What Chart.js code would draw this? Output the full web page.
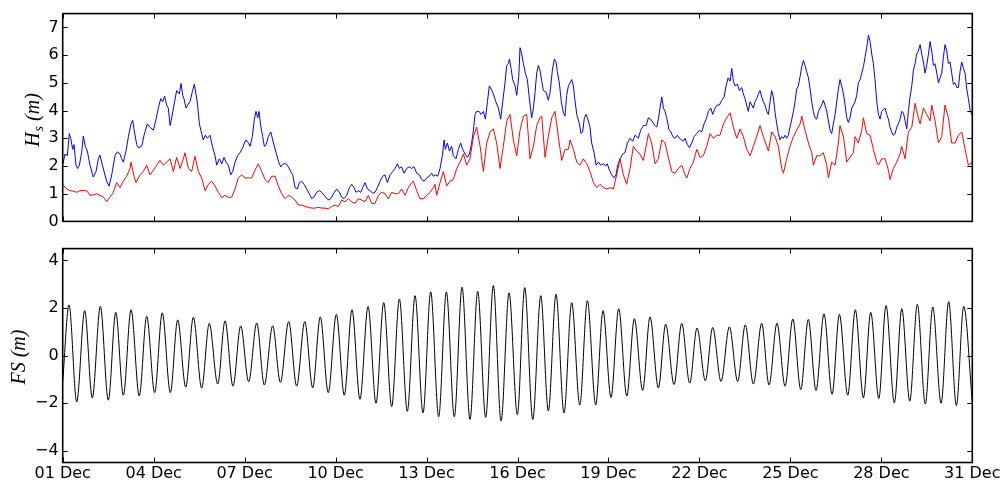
<!DOCTYPE html>
<html>
<head>
<meta charset="utf-8">
<script src="https://cdn.jsdelivr.net/npm/chart.js@4.4.0/dist/chart.umd.min.js"></script>
<style>
html, body { margin: 0; padding: 0; background: #fff; }
#wrap { position: relative; width: 1003px; height: 485px; }
canvas { position: absolute; left: 0; }
#hsChart { top: 0; }
#fsChart { top: 235px; }
</style>
</head>
<body>
<div id="wrap">
  <canvas id="hsChart" width="1003" height="235"></canvas>
  <canvas id="fsChart" width="1003" height="250"></canvas>
</div>
<script>
// ── DATA (x in hours from 01 Dec 00:00) ──
const dayLabels = ['01 Dec', '04 Dec', '07 Dec', '10 Dec', '13 Dec', '16 Dec',
                   '19 Dec', '22 Dec', '25 Dec', '28 Dec', '31 Dec'];

// Hs, blue line (m)
const hsBlueT = [
  0, 1.8, 3.7, 5.2, 6.6, 7.9, 9.0, 10.5, 11.8, 13.2,
  15.0, 16.3, 17.9, 19.5, 21.6, 24.2, 26.4, 28.2, 29.5, 31.4,
  34.8, 36.7, 38.8, 41.4, 43.2, 45.4, 46.7, 48.0, 50.1, 52.0,
  54.1, 55.4, 56.4, 58.6, 59.9, 62.5, 64.4, 67.0, 69.1, 71.8,
  73.9, 75.7, 77.6, 79.1, 80.7, 82.3, 83.6, 85.0, 86.3, 88.1,
  90.2, 92.3, 93.7, 95.0, 96.0, 97.6, 98.9, 100.8, 102.6, 104.2,
  105.5, 106.8, 108.2, 110.0, 111.3, 112.9, 114.5, 116.6, 118.5, 120.6,
  121.9, 124.0, 125.9, 127.7, 129.3, 131.1, 133.0, 134.6, 136.4, 138.5,
  140.4, 142.5, 143.8, 145.1, 147.0, 148.3, 150.1, 151.7, 153.0, 154.4,
  155.4, 156.7, 158.3, 159.6, 161.0, 162.8, 164.7, 166.8, 168.9, 171.0,
  172.6, 174.7, 176.8, 178.6, 180.5, 182.1, 183.9, 185.8, 187.3,
  189.2, 191.0, 193.1, 195.2, 197.1, 198.9, 201.0, 203.2, 205.0, 207.1,
  209.0, 211.1, 212.9, 215.0, 216.9, 219.0, 220.8, 222.7, 224.8, 226.9,
  228.8, 230.6, 232.2, 234.0, 235.9, 237.5, 239.3, 241.2, 243.3, 245.4,
  247.2, 249.1, 251.2, 253.3, 255.1, 257.0, 259.1, 261.2, 263.1, 264.9,
  266.5, 268.3, 270.2, 272.3, 274.4, 276.2, 278.1, 280.2, 282.3, 284.2,
  286.0, 288.1, 290.2, 292.1, 293.4, 295.3, 296.8, 298.7, 300.5, 301.9,
  302.9, 304.5, 306.1, 307.9, 309.2, 311.3, 313.2, 315.0, 316.6, 318.5,
  320.3, 321.9, 323.7, 325.1, 326.4, 327.7, 329.6, 331.1, 333.0, 334.6,
  336.2, 337.7, 339.1, 340.9, 342.8, 344.9, 346.7, 348.3, 350.1, 351.5,
  352.8, 353.6, 354.9, 356.2, 358.1, 359.4, 361.0, 362.0, 363.1, 364.7,
  366.2, 367.8, 369.4,
  371.2, 372.6, 373.9, 375.2, 376.5, 377.8, 379.2, 380.5, 382.6, 384.4,
  385.8, 387.6, 389.2, 390.5, 391.6, 393.1, 394.7, 396.3, 397.6, 398.9,
  400.3, 401.6, 402.9, 404.2, 405.5, 406.9, 409.0, 410.3, 411.6, 412.9,
  414.3, 416.1, 417.4, 418.7, 420.6, 422.2, 424.0, 425.9, 428.0, 429.8,
  431.1, 432.7, 434.6, 436.4, 438.0, 439.3, 441.2, 443.3, 445.1, 447.0,
  449.1, 451.2, 453.0, 454.4, 455.7, 457.5, 459.6, 461.8, 463.6, 465.4,
  467.0, 468.9, 470.2, 471.5, 472.8, 474.2, 475.5, 476.8, 478.1, 480.0,
  481.5, 482.9, 484.7, 486.6, 488.1, 490.0, 491.3, 492.6, 494.5, 496.1,
  497.9, 499.8, 501.9, 504.0, 505.8, 507.7, 509.3, 511.1, 513.0, 514.5,
  516.4, 518.2, 519.8, 521.7, 523.5, 525.1, 526.7, 528.3, 529.6, 530.9,
  532.2, 534.1, 535.6,
  537.5, 538.8, 540.1, 541.4, 542.7, 544.1, 545.4, 546.7, 548.0, 549.3,
  550.7, 552.0, 553.3, 554.6, 555.9, 557.3, 558.6, 559.9, 561.2, 562.5,
  563.9, 565.2, 566.5, 567.8, 569.1, 570.5, 571.8, 573.1, 574.4, 575.7,
  577.1, 578.4, 579.7, 581.0, 582.3, 583.7, 585.0, 586.3, 587.6, 588.9,
  590.3, 591.6, 592.9, 594.2, 595.5, 596.9, 598.2, 599.5, 600.8, 602.1,
  603.4, 604.8, 606.1, 607.4, 608.7, 610.0, 611.4, 612.7, 614.0, 615.3,
  616.6, 618.0, 619.3, 620.6, 621.9, 623.2, 624.6, 625.9, 627.2, 628.5,
  629.8, 631.2, 632.5, 633.8, 635.1, 636.4, 637.8, 639.1, 640.4, 641.7,
  643.0, 644.4, 645.7, 647.0, 648.3, 649.6, 650.9, 652.3, 653.6, 654.9,
  656.2, 657.5, 658.9, 660.2, 661.5, 662.8, 664.1, 665.5, 666.8, 668.1,
  669.4, 670.7, 672.1, 673.4, 674.7, 676.0, 677.3, 678.7, 680.0, 681.3,
  682.6, 683.9, 685.3, 686.6, 687.9, 689.2, 690.5, 691.9, 693.2, 694.5,
  695.8, 697.1, 698.4, 699.8, 701.1, 702.4, 703.7, 705.0, 706.4, 707.7,
  709.0, 710.3, 711.6, 713.0, 714.3, 715.6, 716.9, 718.2, 719.6, 720
];
const hsBlue = [
  2.03, 2.43, 2.37, 3.17, 2.94, 2.60, 2.77, 2.03, 1.91, 2.03,
  2.48, 3.08, 2.71, 2.54, 2.03, 1.60, 1.80, 2.26, 2.39, 2.03,
  1.45, 1.27, 1.68, 2.37, 2.51, 2.43, 2.26, 2.14, 2.54, 3.06,
  3.52, 3.65, 3.34, 2.77, 2.66, 2.71, 3.11, 3.52, 3.40, 3.29,
  3.69, 4.09, 4.43, 4.32, 4.52, 4.20, 4.09, 3.46, 3.74, 4.20,
  4.72, 4.60, 4.98, 4.55, 4.43, 4.09, 4.20, 4.32, 4.68, 4.95,
  4.60, 4.20, 3.52, 3.17, 2.94, 3.11, 3.00, 3.11, 2.71, 2.37,
  2.03, 2.26, 2.08, 2.31, 2.14, 2.03, 1.68, 1.80, 2.14, 2.37,
  2.48, 2.66, 2.83, 2.94, 2.83, 2.71, 3.06, 3.69, 3.97, 3.74,
  3.97, 3.46, 3.06, 2.71, 2.77, 3.06, 3.23, 2.83, 2.48, 2.14,
  1.97, 2.08, 2.08, 1.97, 1.80, 1.68, 1.22, 1.17, 1.40,
  1.45, 1.34, 1.17, 1.00, 0.82, 0.88, 1.05, 1.11, 1.05, 0.94,
  0.82, 0.77, 0.88, 1.05, 1.17, 1.05, 0.88, 0.82, 0.94, 1.22,
  1.34, 1.22, 1.05, 1.11, 1.05, 1.22, 1.40, 1.17, 1.11, 1.02,
  1.05, 1.22, 1.45, 1.63, 1.68, 1.40, 1.68, 1.80, 1.91, 2.08,
  1.91, 1.97, 1.74, 1.91, 1.97, 1.91, 1.97, 1.74, 1.68, 1.51,
  1.45, 1.57, 1.63, 1.74, 1.63, 1.68, 1.63, 1.91, 2.37, 2.94,
  2.60, 2.83, 2.54, 2.71, 2.37, 2.26, 2.60, 2.83, 2.60, 2.43,
  2.31, 2.43, 2.83, 3.29, 3.86, 3.97, 3.97, 3.86, 3.97, 3.69,
  4.32, 4.89, 4.78, 4.60, 4.32, 4.09, 3.69, 4.32, 5.00, 5.63,
  5.69, 5.86, 5.52, 5.12, 4.89, 4.55, 5.23, 6.27, 6.09, 5.69,
  5.35, 5.12, 4.43,
  3.74, 4.09, 4.66, 5.35, 5.63, 5.46, 5.06, 4.72, 4.66, 4.37,
  4.66, 5.46, 5.86, 5.75, 5.40, 5.00, 4.32, 3.92, 3.80, 4.55,
  4.89, 5.00, 5.12, 4.89, 4.37, 3.86, 3.52, 3.17, 3.23, 3.74,
  3.86, 3.63, 3.40, 2.83, 2.48, 2.03, 2.14, 2.03, 2.08, 2.00,
  2.08, 1.85, 1.68, 1.57, 1.68, 2.03, 2.26, 2.43, 2.48, 2.83,
  3.00, 2.89, 3.11, 3.06, 3.00, 3.29, 3.46, 3.46, 3.74, 3.69,
  3.57, 3.46, 3.40, 3.69, 4.09, 4.49, 4.09, 3.97, 3.74, 3.29,
  3.23, 3.06, 3.00, 3.11, 3.00, 2.94, 2.89, 3.00, 2.77, 2.66,
  2.83, 3.06, 3.17, 3.29, 3.23, 3.52, 3.69, 3.97, 4.09, 3.86,
  4.09, 4.20, 4.20, 4.37, 4.49, 4.89, 5.18, 5.06, 5.52, 5.06,
  4.89, 4.95, 4.72,
  4.83, 4.60, 4.43, 4.20, 3.97, 4.32, 4.20, 4.09, 4.32, 4.43,
  4.60, 4.72, 4.49, 4.32, 4.20, 3.97, 3.86, 4.32, 4.72, 4.49,
  3.92, 3.52, 3.17, 2.94, 3.06, 3.00, 3.11, 3.00, 3.11, 3.40,
  3.69, 3.97, 4.32, 4.78, 4.89, 5.23, 5.58, 5.81, 5.63, 5.40,
  5.18, 4.78, 4.32, 3.97, 3.74, 3.69, 3.97, 4.09, 4.20, 4.37,
  4.20, 3.97, 3.63, 3.29, 3.17, 3.52, 3.86, 4.32, 4.78, 5.12,
  4.89, 4.60, 4.20, 3.74, 3.57, 3.74, 4.09, 4.20, 4.32, 4.55,
  5.00, 5.12, 5.35, 5.58, 5.92, 6.27, 6.72, 6.49, 6.04, 5.69,
  5.12, 4.32, 3.86, 3.69, 3.97, 4.03, 4.09, 3.86, 3.69, 3.40,
  3.23, 3.11, 3.17, 3.40, 3.52, 3.69, 3.97, 3.92, 3.63, 3.34,
  3.97, 4.49, 4.89, 5.46, 5.69, 6.04, 6.15, 6.38, 6.04, 5.75,
  5.35, 5.63, 6.04, 6.49, 6.15, 5.63, 5.69, 5.35, 5.00, 5.18,
  5.35, 5.92, 6.38, 6.15, 5.69, 5.75, 5.35, 4.95, 5.00, 4.83,
  4.83, 5.40, 5.75, 5.52, 5.35, 4.78, 4.43, 4.03, 3.86, 3.90
];

// Hs, red line (m)
const hsRedT = [
  0, 3.1, 5.8, 8.4, 11.1, 13.7, 16.3, 19.0, 21.6, 24.2,
  26.9, 29.5, 32.2, 34.8, 37.4, 40.1, 42.7, 45.4, 48.0, 50.6,
  53.3, 54.1, 56.4, 58.0, 61.2, 63.8, 66.5, 69.1, 71.8, 74.4,
  77.0, 79.7, 82.3, 85.0, 87.6, 90.2, 92.9, 95.5, 96.8, 99.5,
  102.1, 104.7, 107.4, 110.0, 112.7, 115.3, 117.9, 120.6, 123.2, 125.9,
  128.5, 131.1, 133.8, 136.4, 139.0, 141.7, 144.3, 147.0, 149.6, 152.2,
  154.9, 157.5, 160.2, 162.8, 165.4, 168.1, 170.7, 173.3, 176.0, 178.6,
  181.3, 183.9, 186.5,
  189.2, 191.8, 194.4, 197.1, 199.7, 202.4, 205.0, 207.6, 210.3, 212.9,
  215.6, 218.2, 220.8, 223.5, 226.1, 228.7, 231.4, 234.0, 236.7, 239.3,
  241.9, 244.6, 247.2, 249.9, 252.5, 255.1, 257.8, 260.4, 263.1, 265.7,
  268.3, 271.0, 273.6, 276.3, 277.6, 280.2, 282.8, 285.5, 288.1, 290.8,
  293.4, 294.7, 296.0, 298.7, 301.3, 304.0, 306.6, 309.2, 311.9, 314.5,
  317.2, 319.8, 322.4, 325.1, 327.7, 330.4, 333.0, 335.6, 338.3, 340.9,
  343.5, 346.2, 348.8, 351.5, 354.1, 356.7, 359.4, 362.0, 364.7, 367.3,
  369.9,
  372.6, 375.2, 377.8, 379.2, 381.8, 384.4, 387.1, 389.7, 392.3, 395.0,
  397.6, 400.3, 401.6, 404.2, 406.9, 409.5, 412.1, 414.8, 417.4, 420.1,
  422.7, 425.3, 428.0, 430.6, 433.3, 435.9, 438.5, 441.2, 443.8, 446.4,
  449.1, 451.7, 454.4, 457.0, 459.6, 462.3, 463.6, 466.2, 468.9, 471.5,
  474.2, 476.8, 479.4, 482.1, 484.7, 487.3, 490.0, 492.6, 494.0, 496.6,
  499.2, 501.9, 504.5, 507.1, 509.8, 512.4, 515.1, 517.7, 520.3, 523.0,
  525.6, 528.3, 530.9, 533.5, 536.2,
  538.8, 541.4, 544.1, 546.7, 549.3, 552.0, 554.6, 557.3, 558.6, 561.2,
  563.9, 566.5, 569.1, 570.5, 573.1, 575.7, 578.4, 581.0, 583.7, 585.0,
  587.6, 590.3, 592.9, 594.2, 596.9, 599.5, 602.1, 604.8, 606.1, 608.7,
  611.4, 614.0, 615.3, 618.0, 620.6, 623.2, 625.9, 627.2, 629.8, 632.5,
  633.8, 636.4, 639.1, 641.7, 644.4, 645.7, 648.3, 650.9, 653.6, 654.9,
  657.5, 660.2, 662.8, 664.1, 666.8, 669.4, 672.1, 674.7, 677.3, 678.7,
  681.3, 683.9, 686.6, 687.9, 690.5, 693.2, 695.8, 698.4, 701.1, 703.7,
  706.4, 709.0, 711.6, 714.3, 716.9, 720
];
const hsRed = [
  1.34, 1.17, 1.11, 1.09, 1.05, 1.11, 1.11, 1.11, 0.94, 0.96,
  1.00, 0.94, 0.88, 0.71, 0.88, 1.05, 1.40, 1.22, 1.45, 1.63,
  1.91, 2.14, 1.63, 1.40, 1.68, 1.80, 2.03, 1.68, 1.85, 2.03,
  2.20, 2.03, 2.14, 2.26, 1.80, 2.31, 1.91, 2.26, 2.48, 1.91,
  1.80, 2.35, 1.80, 1.57, 1.11, 1.34, 1.45, 1.28, 1.05, 0.86,
  0.94, 0.86, 0.88, 1.17, 1.57, 1.68, 1.57, 1.57, 1.57, 1.85,
  2.08, 1.80, 1.51, 1.40, 1.63, 1.63, 1.28, 1.00, 0.82, 0.94,
  0.88, 0.77, 0.59,
  0.59, 0.54, 0.51, 0.48, 0.48, 0.51, 0.48, 0.48, 0.45, 0.54,
  0.59, 0.54, 0.77, 0.71, 0.82, 0.71, 0.65, 0.82, 0.77, 0.71,
  0.94, 0.65, 0.65, 0.94, 1.05, 1.00, 0.82, 1.05, 1.00, 1.00,
  1.17, 0.94, 1.22, 1.40, 1.45, 1.11, 0.82, 0.82, 0.94, 1.05,
  1.22, 1.34, 0.94, 1.40, 1.80, 1.28, 1.45, 1.51, 1.91, 2.14,
  2.43, 2.03, 2.26, 3.06, 3.40, 2.71, 1.80, 2.83, 3.23, 3.34,
  2.83, 1.91, 2.71, 3.63, 3.86, 2.94, 2.37, 3.29, 3.80, 3.86,
  2.26,
  2.71, 3.46, 3.74, 3.80, 2.31, 3.06, 3.74, 3.97, 3.06, 2.20,
  2.60, 2.60, 2.94, 2.60, 2.14, 2.03, 2.26, 2.08, 1.80, 1.40,
  1.22, 1.34, 1.22, 1.17, 1.22, 1.17, 1.68, 2.26, 1.68, 1.34,
  1.91, 2.71, 2.54, 2.43, 2.20, 2.83, 3.17, 2.83, 2.08, 2.26,
  2.94, 2.83, 2.31, 1.80, 1.74, 1.91, 2.03, 1.68, 1.57, 1.91,
  2.14, 2.60, 2.31, 2.37, 2.71, 3.17, 3.00, 3.11, 3.11, 3.52,
  3.74, 3.92, 3.40, 3.00, 3.34,
  3.06, 2.60, 2.37, 2.71, 3.06, 3.46, 3.06, 2.71, 2.54, 3.23,
  3.06, 2.71, 1.91, 1.74, 2.26, 2.71, 3.06, 3.29, 3.52, 3.80,
  3.29, 2.83, 2.48, 2.03, 2.37, 2.37, 2.48, 2.03, 1.57, 2.14,
  2.03, 2.83, 3.46, 3.06, 2.14, 2.31, 2.48, 3.06, 2.83, 3.29,
  3.74, 3.17, 3.11, 2.60, 2.14, 2.03, 2.26, 2.26, 1.85, 1.51,
  1.91, 2.14, 2.43, 2.71, 2.26, 3.23, 3.40, 4.26, 3.74, 3.52,
  4.09, 3.86, 3.63, 4.20, 3.63, 2.83, 3.06, 4.20, 3.74, 2.83,
  2.83, 3.11, 3.23, 2.60, 2.03, 2.14
];

// FS (m): high and low water times and levels
const fsT = [
  0, 5.0, 11.1, 17.4, 23.4, 29.8, 36.1, 42.0, 48.0, 54.1,
  60.6, 66.5, 72.8, 78.8, 85.2, 91.0, 97.4, 103.4, 110.0, 116.0,
  122.7, 128.5, 134.8, 140.9, 147.2, 153.6, 159.6, 166.2, 172.3, 178.9,
  185.2, 191.6, 197.9, 203.9, 210.2, 216.6, 222.9, 229.0, 235.3, 241.7,
  248.0, 254.1, 260.4, 266.5, 272.8, 278.9, 285.2, 291.3, 297.6, 303.7,
  310.0, 316.1, 322.4, 328.5, 334.8, 340.9, 347.0, 353.3, 359.9, 365.7,
  372.1, 378.4, 384.4, 390.5, 396.8, 402.9, 409.3, 415.3, 421.9, 427.7,
  434.0, 440.1, 446.5, 452.5, 459.1, 464.9, 471.5, 477.3, 483.9, 490.0,
  496.3, 502.1, 508.7, 514.5, 521.1, 527.7, 534.3, 540.3, 546.7, 553.3,
  559.1, 565.4, 571.8, 577.9, 584.2, 590.2, 596.3, 602.6, 609.0, 614.8,
  621.4, 627.4, 633.8, 639.6, 646.0, 651.7, 658.3, 664.2, 670.5, 676.5,
  682.8, 688.7, 695.3, 701.3, 707.4, 713.2, 720
];
const fs = [
  -1.1, 2.13, -1.95, 1.89, -1.78, 2.07, -1.88, 1.82, -1.67, 1.93,
  -1.70, 1.65, -1.56, 1.80, -1.56, 1.50, -1.33, 1.61, -1.37, 1.35,
  -1.20, 1.46, -1.29, 1.25, -1.10, 1.37, -1.24, 1.25, -1.13, 1.43,
  -1.29, 1.43, -1.36, 1.63, -1.56, 1.73, -1.67, 1.93, -1.84, 2.07,
  -2.01, 2.23, -2.15, 2.38, -2.35, 2.52, -2.42, 2.68, -2.58, 2.68,
  -2.58, 2.88, -2.69, 2.71, -2.60, 2.95, -2.76, 2.64, -2.49, 2.86,
  -2.69, 2.52, -2.33, 2.58, -2.42, 2.23, -2.08, 2.31, -2.08, 1.89,
  -1.77, 1.97, -1.70, 1.55, -1.47, 1.63, -1.36, 1.32, -1.22, 1.35,
  -1.16, 1.16, -1.06, 1.18, -1.09, 1.21, -1.09, 1.29, -1.20, 1.36,
  -1.24, 1.36, -1.29, 1.54, -1.43, 1.52, -1.47, 1.76, -1.63, 1.73,
  -1.67, 1.93, -1.78, 1.82, -1.81, 2.11, -1.99, 1.97, -1.92, 2.16,
  -2.04, 2.04, -2.01, 2.27, -2.11, 2.07, -1.95
];

// ── HELPERS ──
const AXIS_W = 62.7;
const tickFont = { family: '"DejaVu Sans"', size: 16 };

function pts(t, v) {
    return t.map((x, i) => ({ x, y: v[i] }));
}

function minusFmt(v) {
    return v < 0 ? '\u2212' + Math.abs(v) : String(v);
}

// inward ticks on all four sides, black frame, italic axis title with subscript
const framePlugin = {
    id: 'frame',
    afterDraw(chart, args, opts) {
        const { ctx, chartArea: a, scales: { x, y } } = chart;
        ctx.save();
        ctx.strokeStyle = '#000';
        ctx.lineWidth = 1;
        ctx.beginPath();
        x.ticks.forEach(t => {
            const px = Math.round(x.getPixelForValue(t.value)) + 0.5;
            ctx.moveTo(px, a.top);    ctx.lineTo(px, a.top + 5);
            ctx.moveTo(px, a.bottom); ctx.lineTo(px, a.bottom - 5);
        });
        y.ticks.forEach(t => {
            const py = Math.round(y.getPixelForValue(t.value)) + 0.5;
            ctx.moveTo(a.left, py);  ctx.lineTo(a.left + 5, py);
            ctx.moveTo(a.right, py); ctx.lineTo(a.right - 5, py);
        });
        ctx.stroke();
        ctx.lineWidth = 1.6;
        ctx.strokeRect(a.left, a.top, a.right - a.left, a.bottom - a.top);

        // axis title
        ctx.translate(opts.titleX, (a.top + a.bottom) / 2 + opts.titleShift);
        ctx.rotate(-Math.PI / 2);
        ctx.fillStyle = '#000';
        ctx.textBaseline = 'alphabetic';
        let total = 0;
        const widths = opts.title.map(p => {
            ctx.font = `italic ${p.size}px "Liberation Serif"`;
            const w = ctx.measureText(p.text).width + (p.gap || 0);
            total += w;
            return w;
        });
        let cx = -total / 2;
        opts.title.forEach((p, i) => {
            ctx.font = `italic ${p.size}px "Liberation Serif"`;
            ctx.fillText(p.text, cx, p.dy || 0);
            cx += widths[i];
        });
        ctx.restore();
    }
};

function xScale(showLabels, height) {
    return {
        type: 'linear', min: 0, max: 720,
        grid: { display: false, drawTicks: false }, border: { display: false },
        ticks: {
            display: showLabels, stepSize: 72, autoSkip: false, maxRotation: 0,
            color: '#000', font: tickFont, padding: 2,
            callback: v => dayLabels[Math.round(v / 72)]
        },
        afterFit: s => { s.height = height; }
    };
}

function yScale(min, max, step) {
    return {
        min, max,
        grid: { display: false, drawTicks: false }, border: { display: false },
        ticks: { stepSize: step, includeBounds: false, color: '#000', font: tickFont, padding: 4, callback: minusFmt },
        afterFit: s => { s.width = AXIS_W; }
    };
}

// ── Hs PANEL ──
new Chart(document.getElementById('hsChart'), {
    type: 'line',
    data: {
        datasets: [
            { data: pts(hsRedT, hsRed),   borderColor: '#ff0000', borderWidth: 1, pointRadius: 0, tension: 0 },
            { data: pts(hsBlueT, hsBlue), borderColor: '#0000ff', borderWidth: 1, pointRadius: 0, tension: 0 }
        ]
    },
    options: {
        responsive: false, animation: false, events: [],
        layout: { padding: { left: 0, right: 30.7, top: 4.5, bottom: 12.7 } },
        scales: { x: xScale(false, 0), y: yScale(0, 7.5, 1) },
        plugins: {
            legend: { display: false }, tooltip: { enabled: false },
            frame: {
                titleX: 39, titleShift: 2.5,
                title: [
                    { text: 'H', size: 20, gap: 1 },
                    { text: 's', size: 14, dy: 4, gap: 5 },
                    { text: '(m)', size: 20 }
                ]
            }
        }
    },
    plugins: [framePlugin]
});

// ── FS PANEL ──
new Chart(document.getElementById('fsChart'), {
    type: 'line',
    data: {
        datasets: [
            { data: pts(fsT, fs), borderColor: '#000000', borderWidth: 1, pointRadius: 0, cubicInterpolationMode: 'monotone' }
        ]
    },
    options: {
        responsive: false, animation: false, events: [],
        layout: { padding: { left: 0, right: 30.7, top: 9, bottom: 0 } },
        scales: { x: xScale(true, 22.5), y: yScale(-4.5, 4.5, 2) },
        plugins: {
            legend: { display: false }, tooltip: { enabled: false },
            frame: {
                titleX: 25, titleShift: 1.5,
                title: [
                    { text: 'FS', size: 20, gap: 5 },
                    { text: '(m)', size: 20 }
                ]
            }
        }
    },
    plugins: [framePlugin]
});
</script>
</body>
</html>
